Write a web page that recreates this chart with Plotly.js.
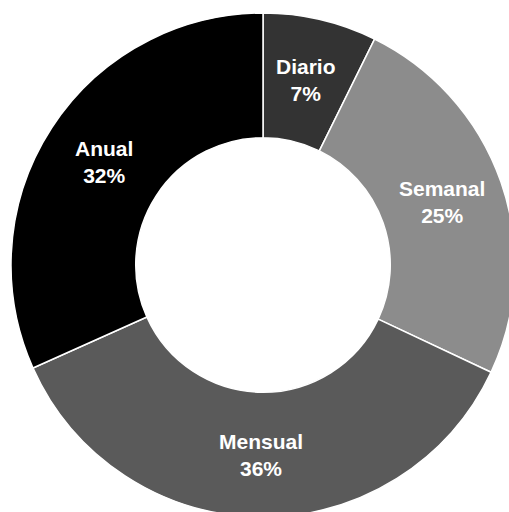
<!DOCTYPE html>
<html>
<head>
<meta charset="utf-8">
<script src="https://cdn.plot.ly/plotly-3.0.1.min.js"></script>
<style>
html, body { margin: 0; padding: 0; overflow: hidden; background: #fff; }
#chart { width: 526px; height: 530px; }
</style>
</head>
<body>
<div id="chart"></div>
<script>
const categories = ["Diario", "Semanal", "Mensual", "Anual"];
const shares = [7.3, 24.7, 36.3, 31.7];
const sliceColors = ["#333333", "#8c8c8c", "#5a5a5a", "#000000"];

const holeFrac = 0.505;
const W = 526, H = 530;
const M = { l: 11, r: 11, t: 13, b: 13 };
const plotW = W - M.l - M.r, plotH = H - M.t - M.b;
const outerR = Math.min(plotW, plotH) / 2;
const midR = outerR * (1 + holeFrac) / 2;

const total = shares.reduce((a, b) => a + b, 0);
let cum = 0;
const annotations = categories.map((name, i) => {
  const midFrac = (cum + shares[i] / 2) / total;
  cum += shares[i];
  const ang = midFrac * 2 * Math.PI; // clockwise from 12 o'clock
  const pct = Math.round(shares[i] / total * 100);
  return {
    xref: "paper", yref: "paper",
    x: 0.5 + midR * Math.sin(ang) / plotW,
    y: 0.5 + midR * Math.cos(ang) / plotH,
    xanchor: "center", yanchor: "middle",
    text: name + "<br>" + pct + "%",
    showarrow: false,
    align: "center",
    font: { family: "Liberation Sans, Arial, sans-serif", size: 21, color: "#ffffff", weight: "bold" }
  };
});

const data = [{
  type: "pie",
  labels: categories,
  values: shares,
  sort: false,
  direction: "clockwise",
  rotation: 0,
  hole: holeFrac,
  marker: { colors: sliceColors, line: { color: "#ffffff", width: 1.5 } },
  textinfo: "none",
  hoverinfo: "label+percent",
  showlegend: false
}];

const layout = {
  width: W,
  height: H,
  margin: M,
  paper_bgcolor: "#ffffff",
  showlegend: false,
  annotations: annotations
};

Plotly.newPlot("chart", data, layout, { displayModeBar: false, staticPlot: true });
</script>
</body>
</html>
